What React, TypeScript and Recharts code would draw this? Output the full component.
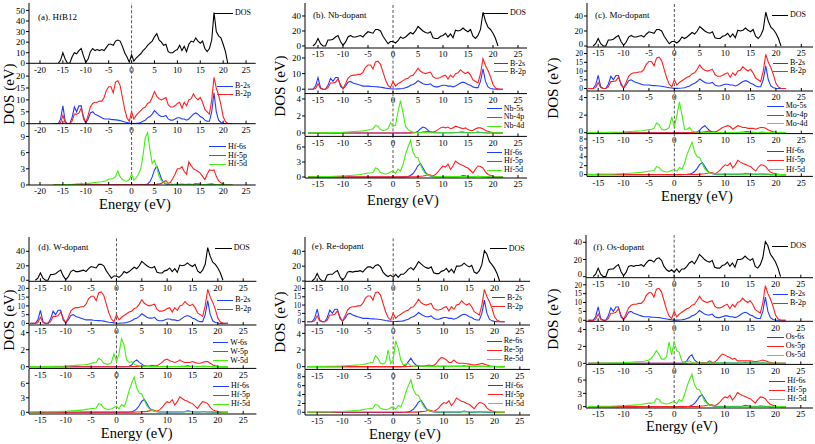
import React from 'react';
import { LineChart, Line, XAxis, YAxis, ReferenceLine } from 'recharts';

const ENERGY = [
  -17, -16.5, -16, -15.5, -15, -14.5, -14, -13.5, -13, -12.5,
  -12, -11.5, -11, -10.5, -10, -9.5, -9, -8.5, -8, -7.5,
  -7, -6.5, -6, -5.5, -5, -4.5, -4, -3.5, -3, -2.5,
  -2, -1.5, -1, -0.5, 0, 0.5, 1, 1.5, 2, 2.5,
  3, 3.5, 4, 4.5, 5, 5.5, 6, 6.5, 7, 7.5,
  8, 8.5, 9, 9.5, 10, 10.5, 11, 11.5, 12, 12.5,
  13, 13.5, 14, 14.5, 15, 15.5, 16, 16.5, 17, 17.5,
  18, 18.5, 19, 19.5, 20, 20.5, 21, 21.5, 22,
];

const X_TICKS_A = [-20, -15, -10, -5, 0, 5, 10, 15, 20, 25];
const X_TICKS = [-15, -10, -5, 0, 5, 10, 15, 20, 25];

const DOS_A = [
  null, null, 0, 3, 10, 4, 0, 0, 6, 10,
  9, 12, 14, 7, 1, 4, 11, 14, 12, 13,
  12, 13, 12, 15, 18, 18, 17, 21, 22, 21,
  16, 10, 6, 1, 8, 2, 5, 7, 9, 12,
  14, 17, 19, 21, 25, 28, 22, 20, 17, 18,
  11, 10, 10, 12, 13, 17, 12, 16, 11, 18,
  21, 20, 24, 21, 19, 21, 14, 11, 14, 22,
  48, 30, 26, 24, 18, 11, 0, null, null,
];
const DOS_BCD = [
  null, null, 0, 3, 10, 3, 0, 0, 8, 8,
  9, 12, 14, 6, 1, 5, 12, 14, 12, 12,
  13, 14, 12, 16, 19, 18, 17, 22, 22, 20,
  13, 8, 3, 6, 6, 4, 7, 12, 10, 12,
  15, 18, 16, 20, 26, 23, 20, 18, 17, 19,
  11, 10, 10, 13, 14, 17, 12, 16, 11, 21,
  20, 21, 24, 21, 19, 22, 13, 10, 14, 22,
  45, 33, 25, 22, 17, 10, 0, null, null,
];
const DOS_EF = [
  null, null, 0, 3, 10, 3, 0, 0, 8, 9,
  9, 12, 14, 6, 1, 5, 12, 13, 12, 13,
  13, 14, 12, 16, 19, 19, 17, 21, 22, 19,
  12, 8, 6, 8, 5, 9, 5, 9, 9, 12,
  16, 18, 15, 20, 26, 23, 20, 18, 17, 19,
  11, 10, 10, 13, 14, 17, 12, 16, 11, 20,
  20, 21, 24, 21, 19, 21, 12, 10, 14, 22,
  41, 36, 26, 22, 17, 10, 0, null, null,
];

const B_2S = [
  0, 0, 0, 2, 7.5, 1, 0, 0, 2.5, 7,
  5, 7.5, 7.5, 2, 0.3, 2, 4.5, 5, 4, 3.5,
  3, 2.5, 2, 2, 2, 1.8, 1.7, 1.6, 1.5, 1.3,
  1, 0.7, 0.5, 0.3, 0.1, 0.1, 0.2, 0.3, 0.5, 1,
  1.5, 2.5, 3, 4, 5.5, 4.5, 3.5, 3, 3, 3.5,
  2, 1.5, 1.5, 2, 2.5, 2.5, 2, 2, 1.5, 2,
  3, 4, 4.5, 4, 3, 2.5, 1.5, 1, 1, 5,
  13, 5, 1.5, 0.5, 0.2, 0, 0, 0, 0,
];
const B_2P = [
  0, 0, 0, 0.5, 3.5, 0.5, 0, 0, 1, 4,
  4, 4.5, 6.5, 3, 0.3, 3.5, 7, 8.5, 9, 9,
  9.5, 9.5, 11, 14, 15.5, 15.5, 13, 17.5, 18, 16,
  11, 6, 2.5, 1, 5, 2, 3.5, 4.5, 5.5, 6.5,
  7, 8.5, 9, 11, 13.5, 11.5, 10.5, 10, 10.5, 11,
  8, 7, 7, 7.5, 8.5, 9, 6.5, 9, 7.5, 10,
  10.5, 12.5, 11, 10, 11, 9, 6, 5, 4, 10,
  19.5, 15, 12, 8, 3, 0.8, 0.2, 0, 0,
];

const HF_6S_A = [
  0, 0, 0, 0, 0, 0, 0, 0, 0, 0,
  0, 0, 0, 0, 0, 0, 0, 0, 0, 0,
  0, 0, 0, 0, 0, 0, 0, 0, 0, 0,
  0, 0, 0, 0, 0, 0, 0, 0, 0.02, 0.05,
  0.1, 0.2, 0.6, 1.5, 2.8, 3.5, 2.4, 1.2, 0.5, 0.2,
  0.1, 0.05, 0.05, 0.05, 0.05, 0.05, 0.05, 0.05, 0.05, 0.05,
  0.05, 0.1, 0.3, 0.2, 0.15, 0.1, 0.05, 0.05, 0.15, 0.2,
  0.1, 0.05, 0.05, 0, 0, 0, 0, 0, 0,
];
const HF_5P_A = [
  0.03, 0.03, 0.03, 0.03, 0.03, 0.03, 0.03, 0.03, 0.03, 0.03,
  0.03, 0.03, 0.03, 0.03, 0.03, 0.03, 0.03, 0.03, 0.03, 0.03,
  0.05, 0.05, 0.05, 0.05, 0.05, 0.05, 0.05, 0.05, 0.05, 0.05,
  0.05, 0.05, 0.05, 0.05, 0.05, 0.05, 0.05, 0.05, 0.05, 0.05,
  0.05, 0.05, 0.05, 0.05, 0.1, 0.15, 0.2, 0.3, 0.6, 0.8,
  0.3, 0.5, 1.2, 2.0, 3.0, 3.0, 3.4, 2.5, 2.0, 4.3,
  3.6, 3.0, 2.8, 2.5, 2.2, 1.6, 1.0, 2.0, 2.8, 2.7,
  2.8, 1.6, 0.8, 0.4, 0.2, 0.1, 0.05, 0, 0,
];
const HF_5D_A = [
  0.05, 0.05, 0.05, 0.08, 0.1, 0.1, 0.1, 0.1, 0.15, 0.15,
  0.2, 0.2, 0.35, 0.2, 0.2, 0.3, 0.35, 0.4, 0.45, 0.5,
  0.55, 0.6, 0.7, 0.8, 1.1, 1.1, 1.2, 1.6, 2.6, 1.5,
  1.0, 0.8, 0.7, 1.0, 2.0, 0.9, 1.3, 2.0, 3.0, 5.5,
  8.8, 9.7, 6.5, 4.0, 4.6, 3.2, 1.6, 0.8, 0.5, 0.3,
  0.2, 0.15, 0.15, 0.15, 0.2, 0.15, 0.2, 0.15, 0.15, 0.2,
  0.15, 0.15, 0.2, 0.15, 0.15, 0.1, 0.1, 0.15, 0.2, 0.15,
  0.15, 0.1, 0.1, 0.05, 0.05, 0.05, 0.03, 0.02, 0.02,
];

const HF_6S = [
  0, 0, 0, 0, 0, 0, 0, 0, 0, 0,
  0, 0, 0, 0, 0, 0, 0, 0, 0, 0,
  0, 0, 0, 0, 0, 0, 0, 0, 0, 0,
  0, 0, 0, 0, 0, 0, 0, 0, 0.02, 0.05,
  0.1, 0.3, 0.7, 1.4, 2.3, 2.7, 1.8, 0.9, 0.4, 0.2,
  0.1, 0.05, 0.05, 0.05, 0.05, 0.05, 0.05, 0.05, 0.05, 0.05,
  0.05, 0.1, 0.3, 0.2, 0.1, 0.05, 0.05, 0.05, 0.15, 0.1,
  0.05, 0.05, 0, 0, 0, 0, 0, 0, 0,
];
const HF_5P = [
  0.02, 0.02, 0.02, 0.02, 0.02, 0.02, 0.02, 0.02, 0.02, 0.02,
  0.02, 0.02, 0.02, 0.02, 0.02, 0.02, 0.02, 0.02, 0.02, 0.02,
  0.03, 0.03, 0.03, 0.03, 0.03, 0.03, 0.03, 0.03, 0.03, 0.03,
  0.03, 0.03, 0.03, 0.03, 0.03, 0.03, 0.03, 0.03, 0.03, 0.03,
  0.03, 0.04, 0.05, 0.05, 0.1, 0.15, 0.2, 0.3, 0.5, 0.4,
  0.2, 0.5, 1.0, 1.7, 2.2, 2.0, 2.6, 1.5, 2.2, 3.2,
  2.8, 2.5, 2.3, 2.0, 1.8, 1.3, 0.8, 1.6, 2.2, 2.1,
  1.8, 1.0, 0.5, 0.3, 0.15, 0.05, 0, 0, 0,
];
const HF_5D = [
  0.05, 0.05, 0.05, 0.05, 0.1, 0.1, 0.1, 0.1, 0.1, 0.1,
  0.15, 0.15, 0.2, 0.2, 0.2, 0.25, 0.3, 0.3, 0.35, 0.4,
  0.45, 0.5, 0.6, 0.7, 0.8, 0.8, 0.9, 1.8, 1.6, 0.9,
  0.7, 0.6, 0.7, 1.0, 1.2, 0.7, 1.6, 1.2, 2.5, 4.5,
  6.0, 7.3, 5.0, 4.0, 3.8, 2.5, 1.3, 0.7, 0.4, 0.25,
  0.15, 0.1, 0.1, 0.1, 0.1, 0.1, 0.1, 0.1, 0.1, 0.1,
  0.1, 0.1, 0.1, 0.1, 0.1, 0.1, 0.1, 0.1, 0.1, 0.1,
  0.1, 0.1, 0.08, 0.05, 0.05, 0.05, 0.03, 0.02, 0.02,
];

const NB_5S = [
  0, 0, 0, 0, 0, 0, 0, 0, 0, 0,
  0, 0, 0, 0, 0, 0, 0, 0, 0, 0,
  0, 0, 0, 0, 0, 0, 0, 0, 0, 0,
  0, 0, 0, 0, 0, 0, 0, 0, 0, 0,
  0, 0, 0.02, 0.05, 0.2, 0.5, 0.7, 0.6, 0.3, 0.1,
  0.05, 0.03, 0.03, 0.03, 0.03, 0.03, 0.03, 0.03, 0.03, 0.05,
  0.05, 0.1, 0.1, 0.05, 0.05, 0.03, 0.03, 0.05, 0.1, 0.05,
  0.03, 0.02, 0, 0, 0, 0, 0, 0, 0,
];
const NB_4P = [
  0, 0, 0, 0, 0, 0, 0, 0, 0, 0,
  0, 0, 0, 0, 0, 0, 0, 0, 0, 0,
  0, 0, 0, 0, 0, 0, 0, 0, 0, 0,
  0, 0, 0, 0, 0, 0, 0, 0, 0, 0,
  0.02, 0.02, 0.03, 0.03, 0.05, 0.05, 0.1, 0.15, 0.2, 0.1,
  0.1, 0.2, 0.4, 0.6, 0.7, 0.6, 0.7, 0.5, 0.6, 0.8,
  0.7, 0.6, 0.5, 0.6, 0.4, 0.3, 0.3, 0.5, 0.6, 0.6,
  0.5, 0.3, 0.2, 0.1, 0.05, 0, 0, 0, 0,
];
const NB_4D = [
  0.02, 0.02, 0.02, 0.02, 0.03, 0.03, 0.03, 0.03, 0.04, 0.04,
  0.05, 0.05, 0.06, 0.06, 0.08, 0.1, 0.12, 0.14, 0.16, 0.18,
  0.2, 0.22, 0.25, 0.3, 0.35, 0.4, 0.5, 0.9, 0.8, 0.4,
  0.3, 0.35, 0.5, 1.2, 0.8, 0.9, 2.5, 3.8, 2.4, 0.8,
  0.4, 0.2, 0.1, 0.08, 0.05, 0.05, 0.04, 0.04, 0.03, 0.03,
  0.03, 0.03, 0.03, 0.03, 0.03, 0.03, 0.03, 0.03, 0.03, 0.03,
  0.03, 0.03, 0.03, 0.03, 0.03, 0.03, 0.03, 0.03, 0.03, 0.03,
  0.03, 0.03, 0.02, 0.02, 0.01, 0.01, 0.01, 0.01, 0.01,
];

const MO_5S = [
  0, 0, 0, 0, 0, 0, 0, 0, 0, 0,
  0, 0, 0, 0, 0, 0, 0, 0, 0, 0,
  0, 0, 0, 0, 0, 0, 0, 0, 0, 0,
  0, 0, 0, 0, 0, 0, 0, 0, 0, 0,
  0, 0, 0.02, 0.1, 0.3, 0.6, 0.8, 0.5, 0.2, 0.05,
  0.03, 0.03, 0.03, 0.03, 0.03, 0.03, 0.03, 0.03, 0.03, 0.03,
  0.05, 0.05, 0.1, 0.1, 0.05, 0.05, 0.03, 0.03, 0.05, 0.05,
  0.03, 0.02, 0, 0, 0, 0, 0, 0, 0,
];
const MO_4P = [
  0, 0, 0, 0, 0, 0, 0, 0, 0, 0,
  0, 0, 0, 0, 0, 0, 0, 0, 0, 0,
  0, 0, 0, 0, 0, 0, 0, 0, 0, 0,
  0, 0, 0, 0, 0, 0, 0, 0, 0, 0,
  0.02, 0.02, 0.03, 0.03, 0.05, 0.05, 0.1, 0.15, 0.2, 0.1,
  0.1, 0.2, 0.4, 0.6, 0.7, 0.8, 0.7, 0.4, 0.6, 0.8,
  0.7, 0.6, 0.6, 0.5, 0.5, 0.5, 0.4, 0.5, 0.6, 0.6,
  0.5, 0.3, 0.2, 0.1, 0.05, 0, 0, 0, 0,
];
const MO_4D = [
  0.02, 0.02, 0.02, 0.02, 0.03, 0.03, 0.03, 0.03, 0.04, 0.04,
  0.05, 0.05, 0.06, 0.06, 0.08, 0.1, 0.12, 0.14, 0.16, 0.18,
  0.2, 0.22, 0.25, 0.3, 0.35, 0.4, 0.5, 1.1, 0.9, 0.4,
  0.3, 0.4, 0.6, 1.8, 0.6, 2.0, 3.5, 2.0, 0.4, 0.4,
  0.6, 0.2, 0.1, 0.08, 0.05, 0.05, 0.04, 0.04, 0.03, 0.03,
  0.03, 0.03, 0.03, 0.03, 0.03, 0.03, 0.03, 0.03, 0.03, 0.03,
  0.03, 0.03, 0.03, 0.03, 0.03, 0.03, 0.03, 0.03, 0.03, 0.03,
  0.03, 0.03, 0.02, 0.02, 0.01, 0.01, 0.01, 0.01, 0.01,
];

const W_6S = [
  0, 0, 0, 0, 0, 0, 0, 0, 0, 0,
  0, 0, 0, 0, 0, 0, 0, 0, 0, 0,
  0, 0, 0, 0, 0, 0, 0, 0, 0, 0,
  0, 0, 0, 0, 0, 0, 0, 0, 0.02, 0.05,
  0.2, 0.6, 0.8, 0.5, 0.3, 0.1, 0.05, 0.03, 0.03, 0.03,
  0.03, 0.03, 0.03, 0.03, 0.03, 0.03, 0.03, 0.03, 0.03, 0.03,
  0.05, 0.05, 0.1, 0.05, 0.05, 0.03, 0.03, 0.03, 0.05, 0.05,
  0.03, 0.02, 0, 0, 0, 0, 0, 0, 0,
];
const W_5P = [
  0, 0, 0, 0, 0, 0, 0, 0, 0, 0,
  0, 0, 0, 0, 0, 0, 0, 0, 0, 0,
  0, 0, 0, 0, 0, 0, 0, 0, 0, 0,
  0, 0, 0, 0, 0, 0, 0, 0, 0, 0,
  0.02, 0.02, 0.03, 0.03, 0.05, 0.05, 0.08, 0.1, 0.15, 0.1,
  0.1, 0.3, 0.5, 0.8, 0.9, 0.7, 0.6, 0.5, 0.6, 0.8,
  0.6, 0.5, 0.5, 0.5, 0.6, 0.5, 0.4, 0.4, 0.5, 0.6,
  0.6, 0.4, 0.2, 0.1, 0.05, 0, 0, 0, 0,
];
const W_5D = [
  0.02, 0.02, 0.02, 0.02, 0.03, 0.03, 0.03, 0.03, 0.04, 0.04,
  0.05, 0.05, 0.06, 0.06, 0.08, 0.1, 0.12, 0.14, 0.16, 0.18,
  0.2, 0.22, 0.25, 0.3, 0.4, 0.45, 0.5, 1.0, 0.8, 0.4,
  0.3, 0.3, 0.5, 1.5, 0.6, 1.5, 3.3, 2.5, 0.8, 0.5,
  0.6, 0.3, 0.15, 0.1, 0.05, 0.05, 0.04, 0.04, 0.03, 0.03,
  0.03, 0.03, 0.03, 0.03, 0.03, 0.03, 0.03, 0.03, 0.03, 0.03,
  0.03, 0.03, 0.03, 0.03, 0.03, 0.03, 0.03, 0.03, 0.03, 0.03,
  0.03, 0.03, 0.02, 0.02, 0.01, 0.01, 0.01, 0.01, 0.01,
];

const RE_6S = [
  0, 0, 0, 0, 0, 0, 0, 0, 0, 0,
  0, 0, 0, 0, 0, 0, 0, 0, 0, 0,
  0, 0, 0, 0, 0, 0, 0, 0, 0, 0,
  0, 0, 0, 0, 0, 0, 0, 0, 0.05, 0.2,
  0.6, 1.0, 0.5, 0.2, 0.1, 0.05, 0.03, 0.03, 0.03, 0.03,
  0.03, 0.03, 0.03, 0.03, 0.03, 0.03, 0.03, 0.03, 0.03, 0.03,
  0.05, 0.05, 0.1, 0.05, 0.05, 0.03, 0.03, 0.03, 0.05, 0.05,
  0.03, 0.02, 0, 0, 0, 0, 0, 0, 0,
];
const RE_5P = [
  0, 0, 0, 0, 0, 0, 0, 0, 0, 0,
  0, 0, 0, 0, 0, 0, 0, 0, 0, 0,
  0, 0, 0, 0, 0, 0, 0, 0, 0, 0,
  0, 0, 0, 0, 0, 0, 0, 0, 0, 0,
  0.02, 0.02, 0.03, 0.03, 0.05, 0.05, 0.08, 0.1, 0.2, 0.1,
  0.15, 0.4, 0.8, 1.1, 1.0, 0.8, 0.5, 0.5, 0.8, 0.5,
  0.4, 0.4, 0.4, 0.35, 0.3, 0.25, 0.2, 0.25, 0.3, 0.4,
  0.3, 0.2, 0.1, 0.05, 0.05, 0, 0, 0, 0,
];
const RE_5D = [
  0.02, 0.02, 0.02, 0.02, 0.03, 0.03, 0.03, 0.03, 0.04, 0.04,
  0.05, 0.05, 0.06, 0.06, 0.08, 0.1, 0.12, 0.14, 0.16, 0.18,
  0.2, 0.22, 0.25, 0.3, 0.4, 0.45, 0.5, 1.3, 1.0, 0.4,
  0.3, 0.5, 2.0, 0.4, 0.8, 3.1, 2.2, 0.8, 0.2, 0.3,
  0.4, 0.1, 0.05, 0.05, 0.05, 0.04, 0.04, 0.03, 0.03, 0.03,
  0.03, 0.03, 0.03, 0.03, 0.03, 0.03, 0.03, 0.03, 0.03, 0.03,
  0.03, 0.03, 0.03, 0.03, 0.03, 0.03, 0.03, 0.03, 0.03, 0.03,
  0.03, 0.03, 0.02, 0.02, 0.01, 0.01, 0.01, 0.01, 0.01,
];

const OS_6S = [
  0, 0, 0, 0, 0, 0, 0, 0, 0, 0,
  0, 0, 0, 0, 0, 0, 0, 0, 0, 0,
  0, 0, 0, 0, 0, 0, 0, 0, 0, 0,
  0, 0, 0, 0, 0, 0, 0, 0, 0.1, 0.3,
  0.8, 1.0, 0.4, 0.15, 0.05, 0.03, 0.03, 0.03, 0.03, 0.03,
  0.03, 0.03, 0.03, 0.03, 0.03, 0.03, 0.03, 0.03, 0.03, 0.03,
  0.05, 0.05, 0.1, 0.05, 0.05, 0.03, 0.03, 0.03, 0.05, 0.05,
  0.03, 0.02, 0, 0, 0, 0, 0, 0, 0,
];
const OS_5P = [
  0, 0, 0, 0, 0, 0, 0, 0, 0, 0,
  0, 0, 0, 0, 0, 0, 0, 0, 0, 0,
  0, 0, 0, 0, 0, 0, 0, 0, 0, 0,
  0, 0, 0, 0, 0, 0, 0, 0, 0, 0,
  0.02, 0.02, 0.03, 0.03, 0.05, 0.05, 0.08, 0.1, 0.3, 0.1,
  0.15, 0.4, 0.8, 1.1, 1.0, 0.8, 0.7, 0.5, 0.6, 0.3,
  0.3, 0.3, 0.3, 0.3, 0.3, 0.25, 0.2, 0.25, 0.3, 0.4,
  0.3, 0.2, 0.1, 0.05, 0.05, 0, 0, 0, 0,
];
const OS_5D = [
  0.02, 0.02, 0.02, 0.02, 0.03, 0.03, 0.03, 0.03, 0.04, 0.04,
  0.05, 0.05, 0.06, 0.06, 0.08, 0.1, 0.12, 0.14, 0.16, 0.18,
  0.2, 0.22, 0.25, 0.3, 0.4, 0.6, 1.0, 1.5, 1.1, 0.5,
  0.5, 0.8, 2.5, 1.0, 2.6, 1.5, 1.3, 0.3, 0.1, 0.2,
  0.3, 0.1, 0.05, 0.05, 0.05, 0.04, 0.04, 0.03, 0.03, 0.03,
  0.03, 0.03, 0.03, 0.03, 0.03, 0.03, 0.03, 0.03, 0.03, 0.03,
  0.03, 0.03, 0.03, 0.03, 0.03, 0.03, 0.03, 0.03, 0.03, 0.03,
  0.03, 0.03, 0.02, 0.02, 0.01, 0.01, 0.01, 0.01, 0.01,
];

const BLACK = '#000000';
const BLUE = '#1f3cff';
const RED = '#ff2020';
const GREEN = '#44ee11';
const FONT = '"Liberation Serif", "Times New Roman", serif';

type Ser = { name: string; values: (number | null)[]; color: string };
type Leg = { x1: number; x2: number; y: number; gap: number };
type SubCfg = {
  top: number; bottom: number; yDomain: [number, number]; yTicks: number[]; yFont: number;
  nudge?: Record<number, number>; series: Ser[]; legend: Leg;
};
type PanelCfg = {
  title: string; titleX: number; titleY: number;
  left: number; right: number; xDomain: [number, number]; xTicks: number[];
  yLabel: [number, number]; xLabel: [number, number];
  subs: SubCfg[];
};

const dosS = (v: (number | null)[]): Ser[] => [{ name: 'DOS', values: v, color: BLACK }];
const bS: Ser[] = [
  { name: 'B-2s', values: B_2S, color: BLUE },
  { name: 'B-2p', values: B_2P, color: RED },
];
const hfA: Ser[] = [
  { name: 'Hf-6s', values: HF_6S_A, color: BLUE },
  { name: 'Hf-5p', values: HF_5P_A, color: RED },
  { name: 'Hf-5d', values: HF_5D_A, color: GREEN },
];
const hfS: Ser[] = [
  { name: 'Hf-6s', values: HF_6S, color: BLUE },
  { name: 'Hf-5p', values: HF_5P, color: RED },
  { name: 'Hf-5d', values: HF_5D, color: GREEN },
];
const dop = (n: [string, string, string], s: number[], p: number[], d: number[]): Ser[] => [
  { name: n[0], values: s, color: BLUE },
  { name: n[1], values: p, color: RED },
  { name: n[2], values: d, color: GREEN },
];

const PANELS: PanelCfg[] = [
  {
    title: '(a). HfB12', titleX: 38, titleY: 17, left: 29.3, right: 256, xDomain: [-22.4, 27.1], xTicks: X_TICKS_A,
    yLabel: [9, 94], xLabel: [135, 203.5],
    subs: [
      { top: 3, bottom: 63.3, yDomain: [0, 57], yTicks: [0, 10, 20, 30, 40, 50], yFont: 9, series: dosS(DOS_A), legend: { x1: 214, x2: 233, y: 13, gap: 8.5 } },
      { top: 63.3, bottom: 124, yDomain: [0, 25.5], yTicks: [0, 5, 10, 15, 20], yFont: 9, series: bS, legend: { x1: 217, x2: 233, y: 86, gap: 8.3 } },
      { top: 124, bottom: 185, yDomain: [0, 11.3], yTicks: [0, 3, 6, 9], yFont: 9, series: hfA, legend: { x1: 209, x2: 226, y: 146.7, gap: 8.8 } },
    ],
  },
  {
    title: '(b). Nb-dopant', titleX: 313, titleY: 15, left: 305, right: 527, xDomain: [-17.6, 26.8], xTicks: X_TICKS,
    yLabel: [280, 86], xLabel: [403, 200],
    subs: [
      { top: 2.7, bottom: 47.7, yDomain: [-2.7, 57.3], yTicks: [0, 20, 40], yFont: 9, series: dosS(DOS_BCD), legend: { x1: 483, x2: 508, y: 13.3, gap: 8.5 } },
      { top: 47.7, bottom: 93.3, yDomain: [-2.8, 26.4], yTicks: [0, 10, 20], yFont: 9, series: bS, legend: { x1: 494, x2: 508, y: 63.5, gap: 8.3 } },
      { top: 93.3, bottom: 136.7, yDomain: [-0.4, 4.7], yTicks: [0, 2, 4], yFont: 9, series: dop(['Nb-5s', 'Nb-4p', 'Nb-4d'], NB_5S, NB_4P, NB_4D), legend: { x1: 486.7, x2: 501.7, y: 108.5, gap: 8.8 } },
      { top: 136.7, bottom: 177.7, yDomain: [-0.2, 8], yTicks: [0, 3, 6], yFont: 9, series: hfS, legend: { x1: 486.7, x2: 502, y: 152.5, gap: 8.8 } },
    ],
  },
  {
    title: '(c). Mo-dopant', titleX: 595, titleY: 15, left: 586.7, right: 812.7, xDomain: [-17.2, 27.3], xTicks: X_TICKS,
    yLabel: [553, 88], xLabel: [697, 195.5],
    subs: [
      { top: 2.7, bottom: 46.7, yDomain: [-1.3, 57.3], yTicks: [0, 20, 40], yFont: 8.5, nudge: { 0: -2.2 }, series: dosS(DOS_BCD), legend: { x1: 771.7, x2: 788, y: 15, gap: 8.5 } },
      { top: 46.7, bottom: 90.7, yDomain: [-1.4, 23.75], yTicks: [0, 5, 10, 15, 20], yFont: 7.4, series: bS, legend: { x1: 773, x2: 788, y: 63.3, gap: 8 } },
      { top: 90.7, bottom: 133.3, yDomain: [-0.1, 4.75], yTicks: [0, 2, 4], yFont: 8.5, nudge: { 0: -2.2 }, series: dop(['Mo-5s', 'Mo-4p', 'Mo-4d'], MO_5S, MO_4P, MO_4D), legend: { x1: 767, x2: 783.7, y: 106.2, gap: 8.8 } },
      { top: 133.3, bottom: 176.7, yDomain: [-0.4, 9.35], yTicks: [0, 2, 4, 6, 8], yFont: 7.4, nudge: { 8: 0.3 }, series: hfS, legend: { x1: 767, x2: 784, y: 151, gap: 9.3 } },
    ],
  },
  {
    title: '(d). W-dopant', titleX: 38.3, titleY: 246.5, left: 29.3, right: 256.7, xDomain: [-17.25, 27.6], xTicks: X_TICKS,
    yLabel: [8.5, 320], xLabel: [136.7, 432.5],
    subs: [
      { top: 237, bottom: 281.3, yDomain: [-1.4, 59.7], yTicks: [0, 20, 40], yFont: 9, nudge: { 0: -1.8 }, series: dosS(DOS_BCD), legend: { x1: 215, x2: 231.7, y: 248, gap: 8.5 } },
      { top: 281.3, bottom: 325.3, yDomain: [-0.9, 24.2], yTicks: [0, 5, 10, 15, 20], yFont: 7.4, series: bS, legend: { x1: 216.7, x2: 233.3, y: 300.3, gap: 9 } },
      { top: 325.3, bottom: 368.7, yDomain: [-0.2, 4.9], yTicks: [0, 2, 4], yFont: 9, series: dop(['W-6s', 'W-5p', 'W-5d'], W_6S, W_5P, W_5D), legend: { x1: 213.3, x2: 228.3, y: 342.5, gap: 9.2 } },
      { top: 368.7, bottom: 413.7, yDomain: [-0.35, 8.96], yTicks: [0, 3, 6], yFont: 9, series: hfS, legend: { x1: 213.3, x2: 229, y: 386, gap: 9.2 } },
    ],
  },
  {
    title: '(e). Re-dopant', titleX: 311.7, titleY: 246, left: 305, right: 530, xDomain: [-17.4, 27], xTicks: X_TICKS,
    yLabel: [280, 322], xLabel: [405, 433.5],
    subs: [
      { top: 237, bottom: 281.3, yDomain: [-0.4, 59.3], yTicks: [0, 20, 40], yFont: 9, nudge: { 0: -2 }, series: dosS(DOS_EF), legend: { x1: 490, x2: 506.7, y: 248.7, gap: 8.5 } },
      { top: 281.3, bottom: 325.3, yDomain: [-2, 24.5], yTicks: [0, 5, 10, 15, 20], yFont: 7.2, series: bS, legend: { x1: 491.7, x2: 505, y: 297.5, gap: 9.3 } },
      { top: 325.3, bottom: 369.7, yDomain: [-0.33, 5], yTicks: [0, 2, 4], yFont: 9, nudge: { 0: -1 }, series: dop(['Re-6s', 'Re-5p', 'Re-5d'], RE_6S, RE_5P, RE_5D), legend: { x1: 486.7, x2: 501.7, y: 341, gap: 9 } },
      { top: 369.7, bottom: 414.7, yDomain: [-0.6, 9.5], yTicks: [0, 2, 4, 6, 8], yFont: 7.4, series: hfS, legend: { x1: 488, x2: 503, y: 385.5, gap: 9 } },
    ],
  },
  {
    title: '(f). Os-dopant', titleX: 593.3, titleY: 247, left: 586, right: 813, xDomain: [-17.4, 27.4], xTicks: X_TICKS,
    yLabel: [553, 319], xLabel: [682, 426],
    subs: [
      { top: 235.3, bottom: 278, yDomain: [-1.2, 48.6], yTicks: [0, 20, 40], yFont: 8.5, nudge: { 0: -2.2 }, series: dosS(DOS_EF), legend: { x1: 771.7, x2: 788.3, y: 246, gap: 8.5 } },
      { top: 278, bottom: 321.3, yDomain: [-0.56, 23.8], yTicks: [0, 5, 10, 15, 20], yFont: 7.4, nudge: { 20: 0.5 }, series: bS, legend: { x1: 773, x2: 788, y: 294, gap: 9.3 } },
      { top: 321.3, bottom: 364.7, yDomain: [-0.12, 5], yTicks: [0, 2, 4], yFont: 9, series: dop(['Os-6s', 'Os-5p', 'Os-5d'], OS_6S, OS_5P, OS_5D), legend: { x1: 767, x2: 783.7, y: 337, gap: 9 } },
      { top: 364.7, bottom: 407.7, yDomain: [-0.3, 9.4], yTicks: [0, 3, 6], yFont: 9, series: hfS, legend: { x1: 768.7, x2: 785.3, y: 381, gap: 9.2 } },
    ],
  },
];

const ML = 30;
const MR = 2;
const MT = 2;
const MB = 16;

function makeYTick(fontSize: number, nudge: Record<number, number>) {
  return function YTick(props: any) {
    const { x, y, payload } = props;
    const dy = nudge[payload.value] ?? 0;
    return (
      <text x={x} y={y + dy} dy="0.355em" textAnchor="end" fontSize={fontSize} fontFamily={FONT} fill="#000">
        {payload.value}
      </text>
    );
  };
}

function Sub({ p, s }: { p: PanelCfg; s: SubCfg }) {
  const w = p.right - p.left;
  const h = s.bottom - s.top;
  const data = ENERGY.map((e, i) => {
    const row: Record<string, number | null> = { e };
    s.series.forEach((ser, k) => {
      row['s' + k] = ser.values[i];
    });
    return row;
  });
  const YTick = makeYTick(s.yFont, s.nudge || {});
  return (
    <div style={{ position: 'absolute', left: p.left - ML, top: s.top - MT }}>
      <LineChart width={w + ML + MR} height={h + MT + MB} data={data} margin={{ top: MT, right: MR, bottom: 0, left: 0 }}>
        <XAxis dataKey="e" type="number" domain={p.xDomain} ticks={p.xTicks} allowDataOverflow interval={0}
          height={MB} tickSize={-3} tickMargin={6} stroke="#000"
          tick={{ fontSize: 9, fill: '#000', fontFamily: FONT }} />
        <XAxis xAxisId="top" orientation="top" type="number" domain={p.xDomain} allowDataOverflow height={0}
          tick={false} tickLine={false} stroke="#000" />
        <YAxis type="number" domain={s.yDomain} ticks={s.yTicks} allowDataOverflow interval={0} width={ML}
          tickSize={3} tickMargin={1} stroke="#000" tick={<YTick />} />
        <YAxis yAxisId="right" orientation="right" type="number" domain={[0, 1]} width={0} tick={false}
          tickLine={false} stroke="#000" />
        <ReferenceLine x={0} stroke="#555" strokeDasharray="3 2" strokeWidth={1} />
        {s.series.map((ser, k) => (
          <Line key={k} type="linear" dataKey={'s' + k} name={ser.name} stroke={ser.color} strokeWidth={1.1}
            dot={false} activeDot={false} isAnimationActive={false} connectNulls={false} />
        ))}
      </LineChart>
    </div>
  );
}

function LegendBox({ s }: { s: SubCfg }) {
  const L = s.legend;
  return (
    <>
      {s.series.map((ser, k) => (
        <div key={k} style={{ position: 'absolute', left: L.x1, top: L.y + k * L.gap - 4, height: 8, display: 'flex', alignItems: 'center', fontFamily: FONT, fontSize: 8, color: '#000', whiteSpace: 'nowrap', lineHeight: '8px' }}>
          <span style={{ display: 'inline-block', width: L.x2 - L.x1, height: 0, borderTop: `1.5px solid ${ser.color}`, marginRight: 2 }} />
          <span>{ser.name}</span>
        </div>
      ))}
    </>
  );
}

export default function App() {
  return (
    <div style={{ position: 'absolute', left: 0, top: 0, width: 815, height: 444, background: '#fff', overflow: 'hidden', fontFamily: FONT }}>
      {PANELS.map((p, pi) => (
        <React.Fragment key={pi}>
          {p.subs.map((s, si) => <Sub key={si} p={p} s={s} />)}
        </React.Fragment>
      ))}
      {PANELS.map((p, pi) => (
        <React.Fragment key={'t' + pi}>
          {p.subs.map((s, si) => <LegendBox key={si} s={s} />)}
          <div style={{ position: 'absolute', left: p.titleX, top: p.titleY - 5, fontSize: 9, lineHeight: '10px', whiteSpace: 'nowrap' }}>{p.title}</div>
          <div style={{ position: 'absolute', left: p.yLabel[0], top: p.yLabel[1], fontSize: 15, lineHeight: '14px', whiteSpace: 'nowrap', transform: 'translate(-50%, -50%) rotate(-90deg)' }}>DOS (eV)</div>
          <div style={{ position: 'absolute', left: p.xLabel[0], top: p.xLabel[1], fontSize: 14.5, lineHeight: '14px', whiteSpace: 'nowrap', transform: 'translate(-50%, -50%)' }}>Energy (eV)</div>
        </React.Fragment>
      ))}
    </div>
  );
}
